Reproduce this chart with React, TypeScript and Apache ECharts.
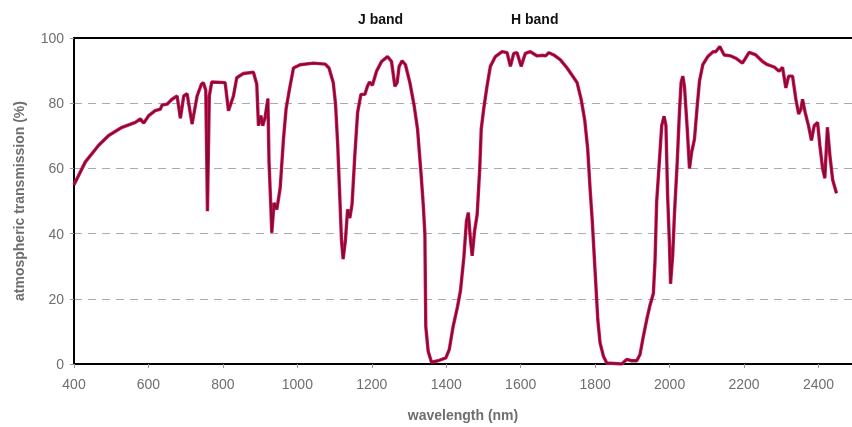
import React, { useEffect, useRef } from "react";
import * as echarts from "echarts";

const wavelength = [
  400, 430.5, 466.3, 493.2, 529.1, 564.8, 578.3, 587.2, 600.8, 618.1, 632, 636.5, 650, 663.4, 676.9, 685.8, 694.8, 703.8, 717.2, 730.7,
  742.2, 747.6, 754, 758.5, 763.5, 770, 806, 815, 828.3, 837.2, 855, 882, 891, 895.5, 902, 907, 913.3, 920.9, 923.9, 928.9,
  931.3, 937.6, 944.8, 953.8, 962.7, 969.7, 978.7, 989.6, 1007.5, 1043.4, 1074.8, 1085, 1096.5, 1102.6, 1108.5, 1114.5, 1118.6, 1123, 1129, 1135,
  1141, 1146.9, 1154.4, 1161.9, 1170.8, 1181.3, 1188.3, 1193.8, 1201.6, 1212.7, 1226.2, 1242.2, 1253, 1262, 1268, 1273.5, 1281.5, 1290.4, 1302.3, 1313.8,
  1322.8, 1331.9, 1338.2, 1342.6, 1345, 1351.4, 1360.2, 1378.2, 1398.9, 1408, 1418.4, 1430.3, 1438.3, 1447.3, 1454.3, 1459.3, 1465.3, 1469.7, 1476.1, 1483.1,
  1490, 1494, 1500.6, 1509.5, 1518.5, 1532, 1550, 1563.4, 1572.3, 1581.3, 1590.2, 1601.2, 1612.6, 1626, 1644.4, 1660, 1667, 1675.5, 1688.8, 1706.8,
  1724.6, 1742.6, 1751.5, 1762.4, 1772, 1780, 1786.3, 1792.3, 1799.7, 1807.2, 1813.2, 1822.2, 1831.2, 1871.4, 1884.6, 1898, 1911.7, 1920.5, 1929.5, 1938.4,
  1947.5, 1956.4, 1960.9, 1965.3, 1971.3, 1978.8, 1985.2, 1990.2, 1994.6, 1999.6, 2002.5, 2008.5, 2013, 2020.5, 2026.4, 2030.9, 2035.4, 2039.9, 2047.4, 2053.4,
  2059.3, 2066.8, 2073.9, 2080.3, 2089.2, 2102.6, 2117, 2124, 2134.9, 2146.6, 2164.3, 2177.8, 2195.7, 2213.7, 2231.6, 2249.5, 2263, 2281, 2294.3, 2303.3,
  2312.3, 2319.8, 2330.3, 2339.2, 2346.7, 2352.9, 2357.1, 2364.1, 2373.1, 2381.1, 2388.5, 2397.5, 2403.6, 2411, 2417, 2424, 2430.6, 2438, 2448.4,
];

const transmission = [
  55, 62, 67.1, 70.1, 72.6, 74.1, 75.2, 73.9, 76.2, 77.7, 78.2, 79.4, 79.7, 81.2, 82.2, 75.4, 82.2, 82.9, 73.6, 82.2,
  85.8, 86.3, 84, 46.9, 82.2, 86.5, 86.3, 77.7, 82.2, 87.8, 89.1, 89.5, 85.8, 73.1, 76.2, 73.1, 75.7, 81.4, 62, 47.9,
  40.3, 49.4, 47.4, 53.9, 69, 78.2, 84.2, 90.8, 91.8, 92.3, 92, 90.8, 86.3, 79.7, 67.1, 49.9, 37.8, 32.2, 37.8, 47.4,
  44.8, 48.9, 64, 77.2, 82.7, 82.7, 85.2, 86.5, 85.5, 89.8, 92.8, 94.3, 92.8, 85.2, 86.3, 91.3, 93, 91.8, 86.3, 79.2,
  72.1, 59, 48.9, 39.8, 11.5, 3.9, 0.6, 1, 1.9, 4.4, 11.5, 17.6, 22.6, 32.7, 43.8, 46.4, 37.8, 33.2, 40.8, 45.9,
  60, 72.1, 78.2, 85.2, 91.3, 94.3, 95.8, 95.5, 91.3, 95.3, 95.5, 91.3, 95.3, 95.8, 94.5, 94.7, 94.5, 95.5, 94.8, 93.3,
  90.8, 87.8, 86.3, 81.2, 74.8, 66, 53.9, 43.8, 28.7, 13.5, 6.5, 2.4, 0.3, 0, 1.4, 1, 1, 2.9, 8.5, 13.5,
  18.1, 21.6, 31.7, 49.9, 60, 73.1, 76, 73.1, 51.9, 36.8, 24.6, 33.7, 45.9, 62, 77.2, 86.3, 88.3, 85.2, 72.1, 60,
  65, 69, 78.7, 86.8, 91.8, 94.3, 95.8, 95.8, 97.4, 94.8, 94.5, 93.8, 92.3, 95.6, 94.8, 92.8, 91.8, 91.1, 89.8, 91,
  84.7, 88.3, 88.3, 81.2, 76.7, 78.2, 81.2, 77.2, 73.1, 68.6, 73.1, 74.1, 67.1, 60, 57, 72.6, 64, 56.5, 52.4,
];

const bandLabels = ["J band", "H band"];
const xAxisName = "wavelength (nm)";
const yAxisName = "atmospheric transmission (%)";

const FONT = "'Liberation Sans', Arial, sans-serif";

export default function App() {
  const ref = useRef<HTMLDivElement>(null);

  useEffect(() => {
    if (!ref.current) return;
    const chart = echarts.init(ref.current, undefined, { renderer: "svg" });
    const data = wavelength.map((w, i) => [w, transmission[i]]);
    chart.setOption({
      animation: false,
      textStyle: { fontFamily: FONT },
      grid: { left: 74, right: 0, top: 38, bottom: 59, containLabel: false },
      graphic: [
        {
          type: "text",
          left: 358,
          top: 12,
          style: { text: bandLabels[0], font: `bold 14px ${FONT}`, fill: "#111" },
        },
        {
          type: "text",
          left: 511,
          top: 12,
          style: { text: bandLabels[1], font: `bold 14px ${FONT}`, fill: "#111" },
        },
      ],
      xAxis: [
        {
          type: "value",
          min: 400,
          max: 2490,
          interval: 200,
          name: xAxisName,
          nameLocation: "middle",
          nameGap: 44,
          nameTextStyle: { fontFamily: FONT, fontSize: 14, fontWeight: "bold", color: "#6e6e6e" },
          axisLine: { show: true, onZero: false, lineStyle: { color: "#000", width: 2 } },
          axisTick: { show: true, length: 4, lineStyle: { color: "#999", width: 1 } },
          axisLabel: {
            color: "#6e6e6e",
            fontSize: 14,
            fontFamily: FONT,
            margin: 13,
            showMaxLabel: false,
            formatter: (v: number) => String(v),
          },
          splitLine: { show: false },
        },
        {
          type: "value",
          position: "top",
          min: 400,
          max: 2490,
          interval: 200,
          axisLine: { show: true, onZero: false, lineStyle: { color: "#000", width: 2 } },
          axisTick: { show: false },
          axisLabel: { show: false },
          splitLine: { show: false },
        },
      ],
      yAxis: {
        type: "value",
        min: 0,
        max: 100,
        interval: 20,
        name: yAxisName,
        nameLocation: "middle",
        nameGap: 48,
        nameTextStyle: { fontFamily: FONT, fontSize: 14, fontWeight: "bold", color: "#6e6e6e" },
        axisLine: { show: true, lineStyle: { color: "#000", width: 2 } },
        axisTick: { show: true, length: 4, lineStyle: { color: "#999", width: 1 } },
        axisLabel: { color: "#6e6e6e", fontSize: 14, fontFamily: FONT, margin: 10 },
        splitLine: {
          show: true,
          lineStyle: { color: "#aaa", type: [8, 6], width: 1 },
        },
      },
      series: [
        {
          type: "line",
          data,
          showSymbol: false,
          lineStyle: { color: "#d4185a", width: 3.4 },
          silent: true,
        },
        {
          type: "line",
          data,
          showSymbol: false,
          lineStyle: { color: "#860a33", width: 1.8 },
          silent: true,
        },
      ],
    });
    return () => chart.dispose();
  }, []);

  return (
    <div
      ref={ref}
      style={{ position: "fixed", left: 0, top: 0, width: 852, height: 427 }}
    />
  );
}
